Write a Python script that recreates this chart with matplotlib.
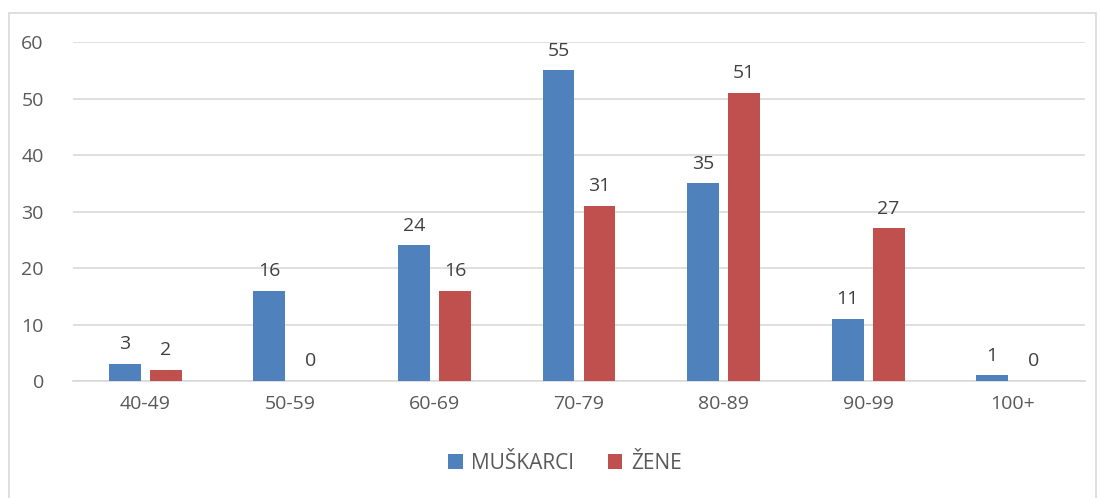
import matplotlib.pyplot as plt
import numpy as np
from matplotlib.patches import Rectangle

plt.rcParams['font.family'] = ['Open Sans', 'DejaVu Sans']

categories = ['40-49', '50-59', '60-69', '70-79', '80-89', '90-99', '100+']
muskarci = [3, 16, 24, 55, 35, 11, 1]
zene = [2, 0, 16, 31, 51, 27, 0]

blue = '#4F81BD'
red = '#C0504D'
txt = '#595959'

fig = plt.figure(figsize=(10.99, 4.98), dpi=100)
fig.patches.append(Rectangle((9 / 1099, -0.01), 1087 / 1099, 1 - 13 / 498 + 0.01,
                             transform=fig.transFigure, fill=False,
                             edgecolor='#D9D9D9', linewidth=1.2))
ax = fig.add_axes([73 / 1099, 1 - 381 / 498, 1012 / 1099, 339 / 498])

x = np.arange(len(categories))
w = 0.22
off = 0.142
b1 = ax.bar(x - off, muskarci, w, color=blue, label='MUŠKARCI', zorder=3)
b2 = ax.bar(x + off, zene, w, color=red, label='ŽENE', zorder=3)

for bars, vals in ((b1, muskarci), (b2, zene)):
    for rect, v in zip(bars, vals):
        ax.text(rect.get_x() + rect.get_width() / 2, v + 1.9, str(v),
                ha='center', va='bottom', fontsize=14, color='#404040')

ax.set_xlim(-0.5, len(categories) - 0.5)
ax.set_ylim(0, 60)
ax.set_yticks(range(0, 61, 10))
ax.set_xticks(x)
ax.set_xticklabels(categories)
ax.yaxis.grid(True, color='#D9D9D9', linewidth=1.2, zorder=0)
ax.set_axisbelow(True)
for s in ('top', 'right', 'left'):
    ax.spines[s].set_visible(False)
ax.spines['bottom'].set_color('#D9D9D9')
ax.spines['bottom'].set_linewidth(1.2)
ax.tick_params(axis='both', length=0, labelsize=14, colors=txt)
ax.tick_params(axis='y', pad=21)
ax.tick_params(axis='x', pad=10)

fig.legend(handles=[b1, b2], loc='center', bbox_to_anchor=(565 / 1099, 1 - 463 / 498),
           ncol=2, frameon=False, fontsize=15, labelcolor=txt,
           handlelength=0.7, handleheight=0.7, columnspacing=1.6, handletextpad=0.4)

fig.savefig('out.png', dpi=100)
